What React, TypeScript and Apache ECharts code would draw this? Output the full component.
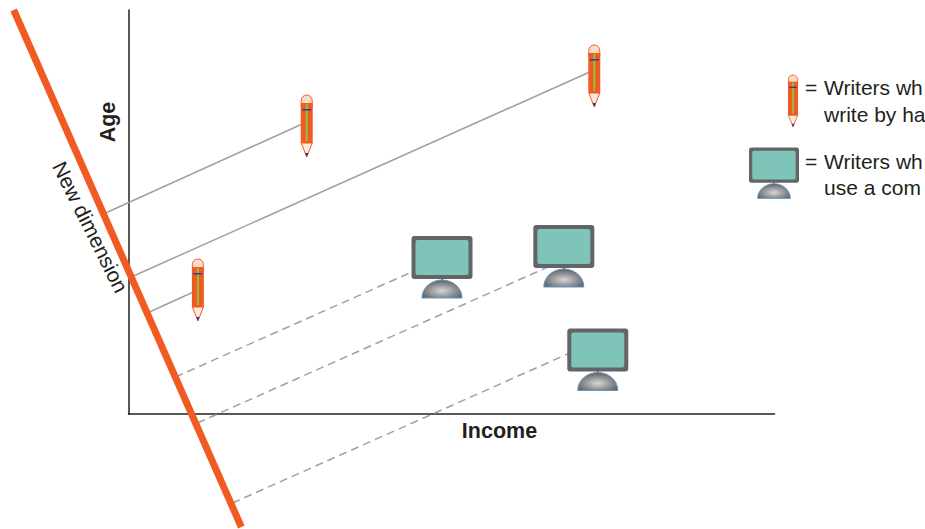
import React, { useEffect, useRef } from "react";
import * as echarts from "echarts";

const axisXMax = 647;
const axisYMax = 404;
const newDimensionLine = [[-115, 404, 113, -113]];
const solidLeaders = [[-23, 201, 174, 290], [21, 102, 65, 122], [5, 138, 462, 342]];
const dashedLeaders = [[47, 37, 286, 143], [69, -9, 420, 147], [104, -89, 442, 61]];
const handWriters = [[178.5, 288], [69.5, 124], [466.5, 338]];
const computerWriters = [[314, 147], [436, 158], [470, 54.5]];
const xName = "Income";
const yName = "Age";
const dimensionName = "New dimension";
const legendLines = ["Writers wh", "write by ha", "Writers wh", "use a com"];

const ORANGE = "#f15a22";
const FONT = "Liberation Sans";
const TEXT = "#231f20";
const FONT_SIZE = 21;

echarts.graphic.registerShape(
  "dome",
  echarts.graphic.extendPath("M-20,18 C-20,7 -10,0 0,0 C10,0 20,7 20,18 Z", {})
);

function pencil(x: number, y: number, s: number) {
  return {
    type: "group",
    x,
    y,
    scaleX: s,
    scaleY: s,
    children: [
      { type: "rect", shape: { x: -5.5, y: -31, width: 11, height: 12, r: [5.5, 5.5, 0, 0] }, style: { fill: "#fbdccb", stroke: ORANGE, lineWidth: 1 } },
      { type: "polygon", shape: { points: [[-5.5, 17], [5.5, 17], [0, 31]] }, style: { fill: "#fde9df", stroke: ORANGE, lineWidth: 1 } },
      { type: "polygon", shape: { points: [[-1.6, 27], [1.6, 27], [0, 31]] }, style: { fill: "#2e3192" } },
      { type: "rect", shape: { x: -6, y: -23, width: 12, height: 40 }, style: { fill: ORANGE } },
      { type: "rect", shape: { x: -1, y: -22, width: 2, height: 37 }, style: { fill: "#8cc63f" } },
      { type: "rect", shape: { x: -4.5, y: -17, width: 9, height: 1.5 }, style: { fill: "#2b3fa0" } },
    ],
  };
}

function monitor(x: number, y: number, s: number) {
  return {
    type: "group",
    x,
    y,
    scaleX: s,
    scaleY: s,
    children: [
      { type: "rect", shape: { x: -1, y: 10, width: 2, height: 4 }, style: { fill: "#d9532c" } },
      { type: "rect", shape: { x: -30.5, y: -31, width: 61, height: 43, r: 3 }, style: { fill: "#636466" } },
      { type: "rect", shape: { x: -26.5, y: -27, width: 53, height: 35, r: 2 }, style: { fill: "#7fc4b8" } },
      {
        type: "dome",
        x: 0,
        y: 13,
        style: {
          fill: new echarts.graphic.RadialGradient(0.5, 0.6, 0.62, [
            { offset: 0, color: "#d4d5d7" },
            { offset: 1, color: "#58595b" },
          ]),
          stroke: "#5b9bd5",
          lineWidth: 1,
        },
      },
    ],
  };
}

function text(t: string, x: number, y: number) {
  return {
    type: "text",
    x,
    y,
    style: { text: t, fill: TEXT, font: `${FONT_SIZE}px "${FONT}"`, textAlign: "left", textVerticalAlign: "middle" },
  };
}

function markSeries(name: string, data: number[][], draw: (x: number, y: number, s: number) => any) {
  return {
    type: "custom",
    name,
    clip: false,
    silent: true,
    z: 5,
    data,
    renderItem: (_p: any, api: any) => {
      const c = api.coord([api.value(0), api.value(1)]);
      return draw(c[0], c[1], 1);
    },
  };
}

function segmentSeries(name: string, data: number[][], lineStyle: any, z: number) {
  return {
    type: "custom",
    name,
    clip: false,
    silent: true,
    z,
    data,
    encode: { x: [0, 2], y: [1, 3] },
    renderItem: (_p: any, api: any) => {
      const a = api.coord([api.value(0), api.value(1)]);
      const b = api.coord([api.value(2), api.value(3)]);
      return {
        type: "line",
        shape: { x1: a[0], y1: a[1], x2: b[0], y2: b[1] },
        style: { fill: null, ...lineStyle },
      };
    },
  };
}

export default function App() {
  const ref = useRef<HTMLDivElement>(null);
  useEffect(() => {
    document.body.style.margin = "0";
    document.body.style.overflow = "hidden";
    const chart = echarts.init(ref.current!, null, { renderer: "svg" });
    const axisLine = { show: true, onZero: false, lineStyle: { color: "#231f20", width: 1.5 } };
    const nameStyle = { color: TEXT, fontFamily: FONT, fontWeight: "bold" as const, fontSize: 21.5 };
    chart.setOption({
      animation: false,
      backgroundColor: "#ffffff",
      grid: { left: 128.5, top: 10, width: 646, height: 404 },
      xAxis: {
        type: "value",
        min: 0,
        max: axisXMax,
        name: xName,
        nameLocation: "middle",
        nameGap: 6,
        nameTextStyle: { ...nameStyle, padding: [0, 0, 0, 96] },
        axisLine,
        axisTick: { show: false },
        axisLabel: { show: false },
        splitLine: { show: false },
      },
      yAxis: {
        type: "value",
        min: 0,
        max: axisYMax,
        name: yName,
        nameLocation: "middle",
        nameGap: 10,
        nameTextStyle: { ...nameStyle, padding: [0, 0, 0, 180] },
        axisLine,
        axisTick: { show: false },
        axisLabel: { show: false },
        splitLine: { show: false },
      },
      series: [
        segmentSeries("Hand leaders", solidLeaders, { stroke: "#a0a0a0", lineWidth: 1.5 }, 1),
        segmentSeries("Computer leaders", dashedLeaders, { stroke: "#a0a0a0", lineWidth: 1.5, lineDash: [8, 5] }, 1),
        segmentSeries(dimensionName, newDimensionLine, { stroke: ORANGE, lineWidth: 7 }, 2),
        markSeries("Writers who write by hand", handWriters, pencil),
        markSeries("Writers who use a computer", computerWriters, monitor),
      ],
      graphic: [
        pencil(793, 101, 0.84),
        monitor(774, 173, 0.82),
        {
          type: "text",
          x: 90.5,
          y: 227,
          rotation: (-63.5 * Math.PI) / 180,
          style: { text: dimensionName, fill: TEXT, font: `${FONT_SIZE}px "${FONT}"`, textAlign: "center", textVerticalAlign: "middle" },
        },
        text("=", 805, 87),
        text(legendLines[0], 824, 87),
        text(legendLines[1], 824, 114),
        text("=", 805, 161),
        text(legendLines[2], 824, 161),
        text(legendLines[3], 824, 187),
      ],
    });
    return () => chart.dispose();
  }, []);
  return <div ref={ref} style={{ width: 925, height: 529 }} />;
}
